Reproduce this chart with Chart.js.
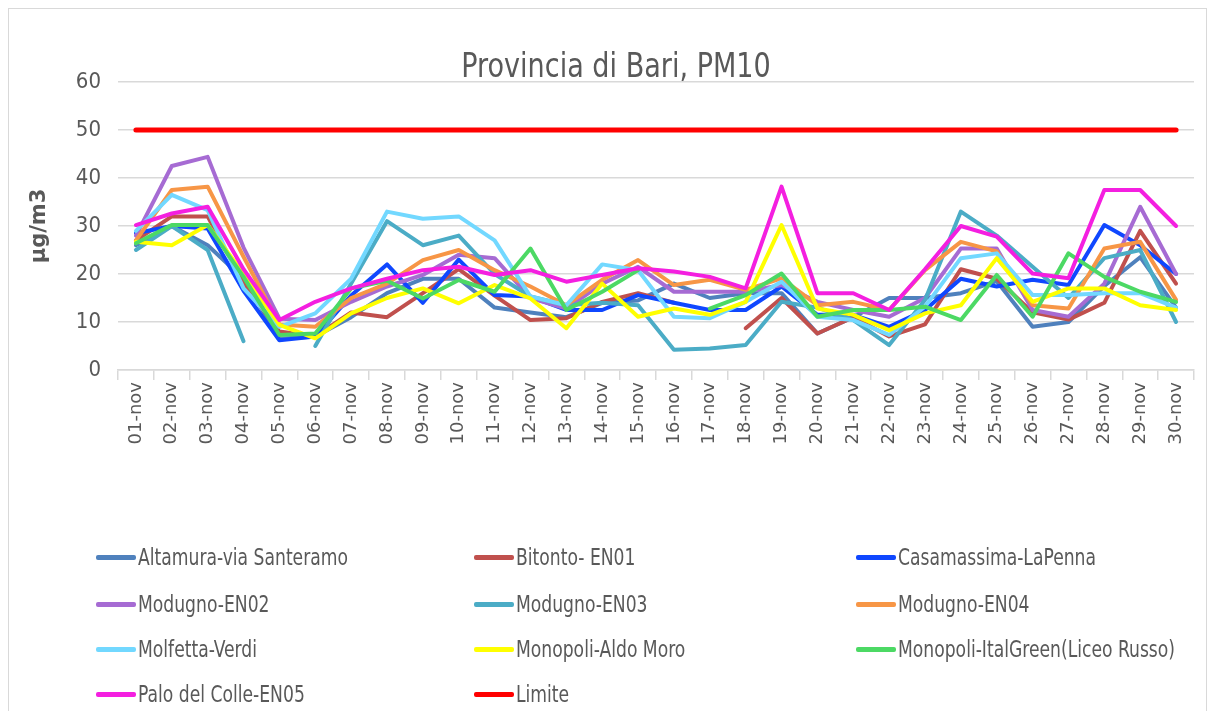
<!DOCTYPE html>
<html><head><meta charset="utf-8">
<script src="https://cdn.jsdelivr.net/npm/chart.js@4"></script>
<style>
html,body{margin:0;padding:0;background:#fff;}
#wrap{position:relative;width:1210px;height:711px;overflow:hidden;}
#frame{position:absolute;left:8px;top:8px;width:1199px;height:740px;border:1px solid #d9d9d9;box-sizing:border-box;pointer-events:none;}
canvas{position:absolute;left:0;top:0;}
#legend{position:absolute;left:0;top:0;width:1210px;height:711px;font-family:"DejaVu Sans Condensed","DejaVu Sans",sans-serif;font-size:23px;color:#595959;pointer-events:none;}
.item{position:absolute;display:flex;align-items:center;white-space:nowrap;height:30px;}
.sw{width:40px;height:5px;border-radius:2px;margin-right:2px;flex:none;}
.tx{display:inline-block;transform:scaleX(0.83);transform-origin:0 50%;}
</style>
</head><body>
<div id="wrap">
<canvas id="c" width="1210" height="711"></canvas>
<div id="legend"></div>
<div id="frame"></div>
</div>
<script>
const COND = '"DejaVu Sans Condensed","DejaVu Sans",sans-serif';
const TITLE = 'Provincia di Bari, PM10';
const Y_TITLE = 'µg/m3';
const days = ['01-nov','02-nov','03-nov','04-nov','05-nov','06-nov','07-nov','08-nov','09-nov','10-nov','11-nov','12-nov','13-nov','14-nov','15-nov','16-nov','17-nov','18-nov','19-nov','20-nov','21-nov','22-nov','23-nov','24-nov','25-nov','26-nov','27-nov','28-nov','29-nov','30-nov'];
const yTicks = [0,10,20,30,40,50,60];

const altamura    = [26,30,26,19,6.5,7,11,16,19,19,13,12,11,14,14.5,18,15,16,16,7.6,11,15,15,16,18.5,9,10,17.5,23.5,13];
const bitonto     = [27,32,32,18,8,7,12,11,16,21,15.5,10.4,10.8,14.2,16,14,null,8.7,15,7.6,11,7,9.5,21,19,12,10.5,14,29,18];
const casamassima = [28.5,30,29.5,16.5,6.2,7,15.5,22,14,23,15.6,15.3,12.5,12.5,15.6,14,12.5,12.5,17.4,11.5,11.5,9,12.5,19,17.4,18.8,17.7,30.2,26,20];
const modugno02   = [28,42.5,44.4,25.5,10.7,10.4,14.2,17.4,19.8,24,23.3,15,12.8,18,21.5,16.3,16.3,16.3,17.7,14.2,12.5,11.1,15,25.3,25.3,12.5,11.1,18,34,20];
const modugno03   = [25,30,25,6,null,5,18,31,26,28,20,15.3,13.5,14,13.5,4.2,4.5,5.2,14.2,13,10.4,5.2,14.6,33,28,21.5,15,23.3,25,10];
const modugno04   = [27,37.5,38.2,23.6,9.5,9,15,18,22.9,25,20.8,17.4,13.5,18.8,22.9,17.7,18.8,16.7,19.1,13.5,14.2,12.5,20.8,26.7,24.7,13.5,12.8,25.3,26.7,14.6];
const molfetta    = [29,36.5,33.3,17,9,11.8,19,33,31.5,32,27,15.3,13.5,22,20.8,11.1,10.8,14.2,18.4,11.1,10.4,7.3,13.2,23.3,24.3,15.6,15.6,16,16,13];
const aldoMoro    = [26.7,26,30.2,20,9.4,6.6,11.8,15,17,13.9,17.7,14.9,8.7,18,11.1,12.8,11.5,14.2,30.2,12.8,11.5,8.3,11.8,13.5,23.3,14.2,17,17,13.5,12.5];
const italGreen   = [26.4,30.2,30.2,19.4,7.3,7.6,17,18.6,14.9,18.75,16.3,25.3,12.5,16.3,20.8,null,12.8,15.6,20.1,11.1,12.5,12.5,13.2,10.4,19.8,11.1,24.3,19.4,16.3,14.2];
const paloColle   = [30.2,32.6,34,21,10.4,14.2,17,19,20.8,21.5,19.8,20.8,18.4,19.8,21.2,20.5,19.4,17,38.2,16,16,12.5,21,30,27.8,20.1,19.1,37.5,37.5,30];
const limite      = [50,50,50,50,50,50,50,50,50,50,50,50,50,50,50,50,50,50,50,50,50,50,50,50,50,50,50,50,50,50];

const seriesNames  = ['Altamura-via Santeramo','Bitonto- EN01','Casamassima-LaPenna','Modugno-EN02','Modugno-EN03','Modugno-EN04','Molfetta-Verdi','Monopoli-Aldo Moro','Monopoli-ItalGreen(Liceo Russo)','Palo del Colle-EN05','Limite'];
const seriesValues = [altamura,bitonto,casamassima,modugno02,modugno03,modugno04,molfetta,aldoMoro,italGreen,paloColle,limite];
const seriesColors = ['#4F81BD','#C0504D','#0F47FF','#A66BD3','#4BACC6','#F79646','#72D8FF','#FFFF00','#4CD964','#F41FE0','#FF0000'];

const N = seriesNames.length;
const datasets = seriesNames.map((name,i)=>({
  label: name,
  data: seriesValues[i],
  borderColor: seriesColors[i],
  backgroundColor: seriesColors[i],
  borderWidth: i === N-1 ? 5 : 4,
  pointRadius: 0,
  tension: 0,
  fill: false,
  spanGaps: false,
  borderJoinStyle: 'round',
  borderCapStyle: 'round',
  order: N - i
}));

// Title drawn as condensed text (the original uses a narrow font)
const titlePlugin = {
  id: 'narrowTitle',
  afterDraw(chart) {
    const ctx = chart.ctx;
    ctx.save();
    ctx.fillStyle = '#595959';
    ctx.font = '34px ' + COND;
    ctx.textAlign = 'center';
    ctx.textBaseline = 'alphabetic';
    ctx.translate(616, 77);
    ctx.scale(0.885, 1);
    ctx.fillText(TITLE, 0, 0);
    ctx.restore();
  }
};

const chart = new Chart(document.getElementById('c'), {
  type: 'line',
  data: { labels: days, datasets },
  plugins: [titlePlugin],
  options: {
    responsive: false,
    animation: false,
    layout: { padding: { left: 0, right: 16, top: 82, bottom: 0 } },
    plugins: {
      legend: { display: false },
      tooltip: { enabled: false },
      title: { display: false }
    },
    scales: {
      x: {
        offset: true,
        grid: { offset: true, drawOnChartArea: false, tickLength: 10, color: '#d9d9d9', lineWidth: 1.5 },
        border: { color: '#d9d9d9', width: 1.5 },
        ticks: { maxRotation: 90, minRotation: 90, autoSkip: false, color: '#595959',
                 font: { family: '"DejaVu Sans", sans-serif', size: 18 }, padding: 2 },
        afterFit(s) { s.height = 341; }
      },
      y: {
        min: 0, max: 60,
        afterBuildTicks(s) { s.ticks = yTicks.map(v => ({ value: v })); },
        ticks: { color: '#595959', font: { family: COND, size: 22 }, padding: 17 },
        grid: { drawTicks: false, color: '#d9d9d9', lineWidth: 1.5 },
        border: { display: false },
        title: { display: true, text: Y_TITLE, color: '#595959',
                 font: { family: '"DejaVu Sans", sans-serif', size: 21, weight: 'bold' },
                 padding: { top: 27, bottom: 0 } },
        afterFit(s) { s.width = 118; }
      }
    }
  }
});

// HTML legend, built from the chart's datasets (3 columns)
const legend = document.getElementById('legend');
const colX = [96, 474, 856];
const rowY = [557, 604, 649, 694];
chart.data.datasets.forEach((ds, i) => {
  const col = i % 3, row = Math.floor(i / 3);
  const item = document.createElement('div');
  item.className = 'item';
  item.style.left = colX[col] + 'px';
  item.style.top = (rowY[row] - 15) + 'px';
  const sw = document.createElement('span');
  sw.className = 'sw';
  sw.style.background = ds.borderColor;
  const tx = document.createElement('span');
  tx.className = 'tx';
  tx.textContent = ds.label;
  item.appendChild(sw); item.appendChild(tx);
  legend.appendChild(item);
});
</script>
</body></html>
